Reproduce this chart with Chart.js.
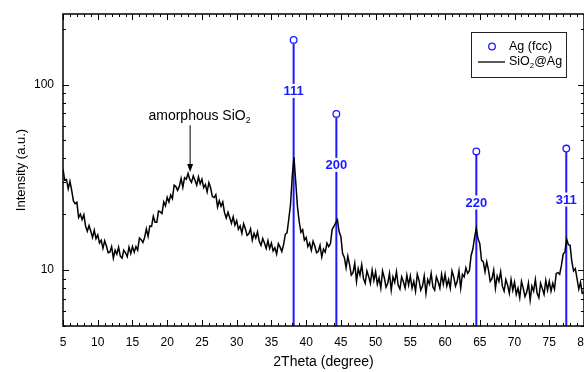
<!DOCTYPE html>
<html>
<head>
<meta charset="utf-8">
<script src="https://cdn.jsdelivr.net/npm/chart.js@4"></script>
<style>
  body{margin:0;background:#fff;}
  #wrap{width:584px;height:372px;position:relative;}
</style>
</head>
<body>
<div id="wrap"><canvas id="c"></canvas></div>
<script>
// ===== DATA =====
// XRD scan, 2theta from 5 to 80 deg, one reading every 0.25 deg
const scanStart = 5, scanStep = 0.25;
const intensity = [
  35.0,30.5,30.8,27.4, 30.1,26.9,23.6,22.8, 23.2,19.2,20.0,18.7, 19.9,17.3,16.2,17.4,
  16.2,15.0,16.4,14.8, 15.5,14.0,14.5,13.1, 14.4,13.5,12.4,12.5, 13.4,11.6,12.8,12.2,
  13.3,11.9,11.6,12.8, 12.4,11.8,13.3,12.3, 13.4,12.5,13.4,12.8, 14.9,14.6,14.1,15.0,
  16.7,15.2,17.3,17.2, 19.5,18.1,18.1,20.8, 20.6,20.2,23.3,22.2, 24.7,23.3,25.4,24.3,
  28.7,28.2,26.9,28.3, 31.2,27.9,31.5,30.9, 33.2,30.8,29.7,32.2, 30.5,28.7,31.8,29.2,
  30.9,27.8,28.9,26.4, 29.6,27.8,24.9,24.6, 25.5,21.9,23.7,22.1, 23.3,20.4,19.1,20.5,
  19.2,17.9,19.4,17.5, 18.5,16.6,17.3,15.8, 17.8,16.7,15.4,15.7, 16.7,14.5,15.8,14.9,
  16.1,14.3,13.6,14.8, 14.0,13.1,14.4,13.1, 14.0,12.7,13.2,12.2, 13.9,13.3,12.6,13.7,
  15.6,15.9,18.8,22.5, 32.0,40.6,30.0,22.0, 18.3,16.0,16.5,14.5, 15.0,13.4,14.0,12.8,
  14.3,13.5,12.4,12.6, 13.6,11.8,13.0,12.5, 14.0,13.4,13.9,16.6, 17.2,18.0,18.7,16.1,
  15.2,12.3,11.7,10.3, 11.9,10.7,9.4,9.7, 10.9,8.7,10.2,9.4, 10.7,9.0,8.5,9.9,
  9.25,8.5,10.0,8.8, 9.8,8.4,9.1,8.0, 9.9,9.1,8.1,8.5, 9.6,7.8,9.2,8.6,
  9.8,8.3,7.9,9.2, 8.65,8.0,9.4,8.3, 9.3,8.0,8.7,7.7, 9.5,8.8,7.8,8.2,
  9.3,7.5,8.9,8.4, 9.6,8.1,7.8,9.2, 8.65,8.0,9.5,8.4, 9.5,8.2,8.9,8.0,
  9.9,9.2,8.2,8.7, 9.9,8.0,9.5,9.2, 10.3,9.6,9.9,12.0, 13.0,15.0,16.8,14.7,
  13.9,11.3,11.1,9.8, 11.1,10.0,8.7,9.0, 10.0,8.0,9.3,8.7, 9.8,8.2,7.7,8.9,
  8.3,7.5,8.9,7.8, 8.6,7.4,8.0,7.1, 8.7,8.0,7.2,7.6, 8.5,6.9,8.2,7.7,
  8.9,7.5,7.1,8.5, 7.95,7.4,8.8,7.8, 8.7,7.7,8.5,7.9, 9.6,9.7,9.5,10.6,
  12.2,12.5,14.7,13.7, 13.6,11.1,9.9,10.2, 9.0,7.9,8.6,7.5, 7.6
];
// Ag (fcc) reference lines
const agPos = [38.2, 44.35, 64.5, 77.45];
const agInt = [174, 69.5, 43.6, 45.2];
const agHkl = ['111', '200', '220', '311'];
// axes
const xTickVals = [5,10,15,20,25,30,35,40,45,50,55,60,65,70,75,80];
const yTickVals = [5,6,7,8,9,10,20,30,40,50,60,70,80,90,100,200];
const yTickLabels = [10, 100];
// annotation: amorphous hump
const humpX = 23.3, humpTip = 33.8, humpTail = 60.4, humpTextX = 17.3, humpTextY = 67.8;

const BLUE = '#1a1aff';
const FONT = '"Liberation Sans", Arial, sans-serif';

const curve = intensity.map((v, i) => ({x: scanStart + i * scanStep, y: v}));
const sticks = agPos.map((p, i) => ({x: p, y: agInt[i]}));

// ===== DECORATION =====
function subText(ctx, parts, x, y, size) {
  // parts alternate: normal, subscript, normal...
  let cx = x;
  parts.forEach((t, i) => {
    const sub = i % 2 === 1;
    ctx.font = (sub ? size * 0.62 : size) + 'px ' + FONT;
    ctx.fillText(t, cx, sub ? y + size * 0.32 : y);
    cx += ctx.measureText(t).width;
  });
}

const decor = {
  id: 'decor',
  beforeDatasetsDraw(chart) {
    const {ctx, chartArea: a, scales: {x, y}} = chart;
    ctx.save();
    ctx.strokeStyle = BLUE; ctx.lineWidth = 2;
    agPos.forEach((p, i) => {
      const px = x.getPixelForValue(p);
      ctx.beginPath();
      ctx.moveTo(px, a.bottom);
      ctx.lineTo(px, y.getPixelForValue(agInt[i]) + 3.5);
      ctx.stroke();
    });
    ctx.restore();
  },
  afterDatasetsDraw(chart) {
    const {ctx, chartArea: a, scales: {x, y}} = chart;
    ctx.save();
    // hkl labels
    ctx.font = 'bold 13px ' + FONT;
    ctx.textAlign = 'center'; ctx.textBaseline = 'middle';
    agPos.forEach((p, i) => {
      const px = x.getPixelForValue(p), py = y.getPixelForValue(agInt[i]) + 51;
      ctx.fillStyle = '#fff';
      ctx.fillRect(px - 13, py - 7, 26, 14);
      ctx.fillStyle = BLUE;
      ctx.fillText(agHkl[i], px, py + 0.5);
    });
    // amorphous SiO2 annotation
    ctx.fillStyle = '#000'; ctx.textAlign = 'left';
    subText(ctx, ['amorphous SiO', '2'], x.getPixelForValue(humpTextX), y.getPixelForValue(humpTextY), 14);
    const ax = x.getPixelForValue(humpX), ay0 = y.getPixelForValue(humpTail), ay1 = y.getPixelForValue(humpTip);
    ctx.strokeStyle = '#000'; ctx.lineWidth = 1;
    ctx.beginPath(); ctx.moveTo(ax, ay0); ctx.lineTo(ax, ay1 - 6); ctx.stroke();
    ctx.beginPath(); ctx.moveTo(ax - 3, ay1 - 8); ctx.lineTo(ax + 3, ay1 - 8); ctx.lineTo(ax, ay1); ctx.closePath(); ctx.fill();
    // legend
    const bx = a.right - 113, by = a.top + 18, bw = 95, bh = 45;
    ctx.fillStyle = '#fff'; ctx.fillRect(bx, by, bw, bh);
    ctx.strokeStyle = '#222'; ctx.lineWidth = 1;
    ctx.strokeRect(bx + 0.5, by + 0.5, bw, bh);
    ctx.strokeStyle = BLUE; ctx.lineWidth = 1.3;
    ctx.beginPath(); ctx.arc(bx + 21, by + 14.5, 3.3, 0, Math.PI * 2); ctx.stroke();
    ctx.strokeStyle = '#000'; ctx.lineWidth = 1.3;
    ctx.beginPath(); ctx.moveTo(bx + 7, by + 30); ctx.lineTo(bx + 34, by + 30); ctx.stroke();
    ctx.fillStyle = '#000'; ctx.textBaseline = 'middle';
    subText(ctx, ['Ag (fcc)'], bx + 38, by + 14.5, 12.5);
    subText(ctx, ['SiO', '2', '@Ag'], bx + 38, by + 30, 12.5);
    ctx.restore();
  },
  afterDraw(chart) {
    const {ctx, chartArea: a, scales: {x, y}} = chart;
    ctx.save();
    ctx.strokeStyle = '#000'; ctx.lineWidth = 1.5;
    ctx.strokeRect(a.left, a.top, a.right - a.left, a.bottom - a.top);
    ctx.lineWidth = 1;
    // x ticks, inward, bottom and top
    for (let v = x.min; v <= x.max; v += 1) {
      const px = Math.round(x.getPixelForValue(v)) + 0.5;
      const len = (v % 5 === 0) ? 6 : 3;
      ctx.beginPath();
      ctx.moveTo(px, a.bottom); ctx.lineTo(px, a.bottom - len);
      ctx.moveTo(px, a.top); ctx.lineTo(px, a.top + len);
      ctx.stroke();
    }
    // y ticks, inward
    yTickVals.forEach(v => {
      const py = Math.round(y.getPixelForValue(v)) + 0.5;
      const len = yTickLabels.includes(v) ? 6 : 3;
      ctx.beginPath();
      ctx.moveTo(a.left, py); ctx.lineTo(a.left + len, py);
      ctx.moveTo(a.right, py); ctx.lineTo(a.right - len, py);
      ctx.stroke();
    });
    ctx.restore();
  }
};

// ===== CHART =====
new Chart(document.getElementById('c'), {
  type: 'line',
  data: {
    datasets: [
      {label: 'SiO2@Ag', data: curve, borderColor: '#000', borderWidth: 1.5,
       pointRadius: 0, tension: 0, order: 2},
      {type: 'scatter', label: 'Ag (fcc)', data: sticks, showLine: false,
       pointRadius: 3.3, pointBorderWidth: 1.3, pointBorderColor: BLUE,
       pointBackgroundColor: '#fff', order: 1}
    ]
  },
  options: {
    responsive: true, maintainAspectRatio: false, animation: false,
    layout: {autoPadding: false, padding: {top: 14, right: 0, left: 0, bottom: 0}},
    plugins: {legend: {display: false}, tooltip: {enabled: false}},
    scales: {
      x: {
        type: 'linear', min: 5, max: 80,
        grid: {display: false, drawTicks: false}, border: {display: false},
        afterBuildTicks: s => { s.ticks = xTickVals.map(v => ({value: v})); },
        afterFit: s => { s.height = 46; s.paddingLeft = 0; s.paddingRight = 0; },
        ticks: {color: '#000', padding: 9, maxRotation: 0, autoSkip: false,
                font: {family: FONT, size: 12}},
        title: {display: true, text: '2Theta (degree)', color: '#000',
                font: {family: FONT, size: 14}, padding: {top: 0, bottom: 1}}
      },
      y: {
        type: 'logarithmic', min: 5, max: 240,
        grid: {display: false, drawTicks: false}, border: {display: false},
        afterBuildTicks: s => { s.ticks = yTickVals.map(v => ({value: v})); },
        afterFit: s => { s.width = 63; s.paddingTop = 0; s.paddingBottom = 0; },
        ticks: {color: '#000', padding: 9, autoSkip: false,
                font: {family: FONT, size: 12},
                callback: v => yTickLabels.includes(v) ? String(v) : ''},
        title: {display: true, text: 'Intensity (a.u.)', color: '#000',
                font: {family: FONT, size: 13}, padding: {top: 14, bottom: 0}}
      }
    }
  },
  plugins: [decor]
});
</script>
</body>
</html>
